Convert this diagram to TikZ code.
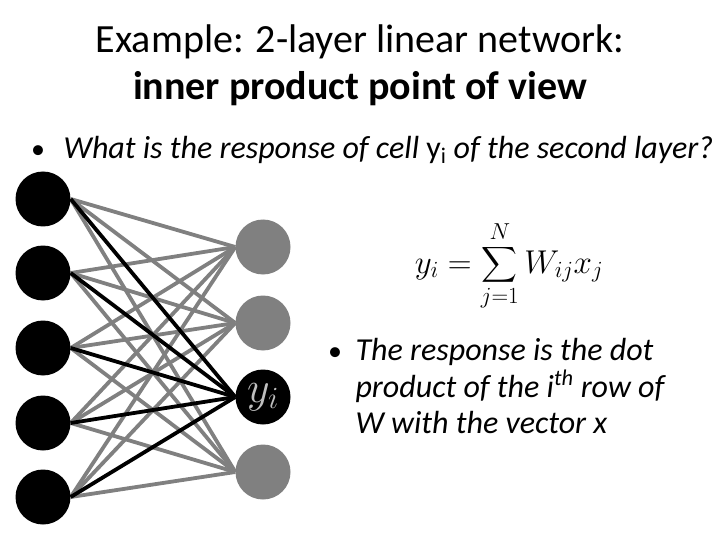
\documentclass[tikz,border=0pt]{standalone}
\usepackage{fix-cm}
\usepackage{fontspec}
\setmainfont{Carlito}
\usepackage{amsmath}
\usetikzlibrary{backgrounds}

\begin{document}
\begin{tikzpicture}[
  x=1pt, y=-1pt,
  inunit/.style={circle, fill=black, minimum size=55pt, inner sep=0pt},
  outunit/.style={circle, fill=gray, minimum size=55pt, inner sep=0pt},
  weight/.style={line width=3.8pt, gray},
  active/.style={line width=3.8pt, black},
  bodytext/.style={anchor=base west, font=\fontsize{32}{36}\selectfont\itshape}
]
  \useasboundingbox (0,0) rectangle (720,540);

  % Title
  \node[anchor=base, font=\fontsize{40}{48}\selectfont] (title) at (360,53) {Example: 2-layer linear network:};
  \node[anchor=base, font=\fontsize{40}{48}\selectfont\bfseries] (subtitle) at (360,100) {inner product point of view};

  % Question
  \node[anchor=base, font=\fontsize{28}{30}\selectfont] (qbullet) at (38,159) {•};
  \node[bodytext] (question) at (60,159) {What is the response of cell {\upshape y\textsubscript{i}} of the second layer?};

  % Input layer
  \foreach \i/\y in {1/199, 2/273, 3/348, 4/423, 5/497} {
    \node[inunit] (x\i) at (43,\y) {};
  }

  % Output layer
  \foreach \j/\y in {1/247, 2/323, 4/472} {
    \node[outunit] (y\j) at (263,\y) {};
  }
  \node[inunit, font=\fontsize{44}{46}\selectfont] (y3) at (263,397) {\color{lightgray}$y_i$};

  % Connections
  \begin{scope}[on background layer]
    \foreach \i in {1,...,5} {
      \foreach \j in {1,2,4} {
        \draw[weight] (x\i.east) -- (y\j.west);
      }
    }
    \foreach \i in {1,...,5} {
      \draw[active] (x\i.east) -- (y3.west);
    }
  \end{scope}

  % Formula
  \node[anchor=base, font=\fontsize{33}{39}\selectfont] (formula) at (509,273) {$\displaystyle y_i = \sum_{j=1}^{N} W_{ij} x_j$};

  % Answer
  \node[anchor=base, font=\fontsize{28}{30}\selectfont] (abullet) at (335,360) {•};
  \foreach \y/\line in {360/The response is the dot, 397/product of the i\textsuperscript{th} row of, 433/W with the vector x} {
    \node[bodytext] (line\y) at (352,\y) {\line};
  }

\end{tikzpicture}
\end{document}
